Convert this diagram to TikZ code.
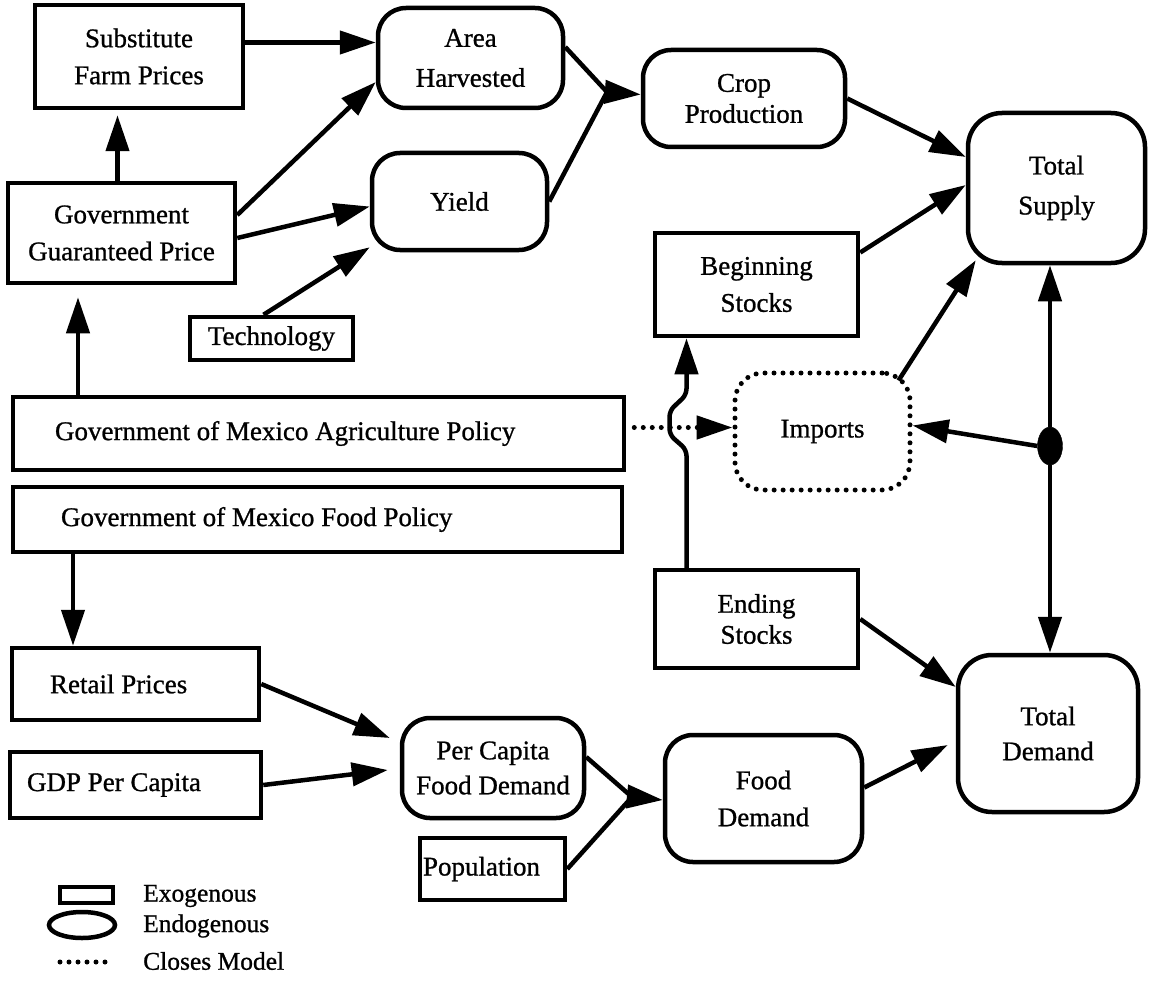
\documentclass[tikz,border=0pt]{standalone}
\usepackage{fontspec}
\setmainfont{Liberation Serif}[BoldFont={Liberation Serif}, BoldFeatures={FakeBold=0.9}]
\usetikzlibrary{arrows.meta,shapes.geometric}

\tikzset{
  exo/.style={draw, line width=4.5pt, align=center, inner sep=0pt},
  endo/.style={exo, rounded corners=28pt},
  link/.style={line width=4.5pt, line join=round, -{Triangle[length=36pt,width=23pt]}},
  bare/.style={line width=4.5pt, line join=round},
  closes/.style={line width=5pt, line cap=round, dash pattern=on 0pt off 9pt},
}

\begin{document}
\begin{tikzpicture}[x=1pt, y=-1pt, font=\fontsize{27}{37}\selectfont\bfseries]
		\useasboundingbox (0,0) rectangle (1150,987);
		
		%%%%% SUPPLY SIDE %%%%%
		
		\node[exo, minimum width=208pt, minimum height=103pt] (subst) at (139,56.5) {Substitute\\Farm Prices};
		\node[endo, minimum width=185pt, minimum height=100pt] (area) at (470.5,58) {Area\\[3pt]Harvested};
		\node[endo, minimum width=202pt, minimum height=97pt] (crop) at (744,98.5) {Crop\\[-6pt]Production};
		\node[endo, minimum width=175pt, minimum height=97pt] (yield) at (459.5,201.5) {Yield};
		\node[endo, rounded corners=34pt, minimum width=177pt, minimum height=150pt] (ts) at (1056.5,188) {Total\\[3pt]Supply};
		\node[exo, minimum width=227pt, minimum height=100pt] (ggp) at (121.5,233) {Government\\Guaranteed Price};
		\node[exo, minimum width=203pt, minimum height=103pt] (bs) at (756.5,284.5) {Beginning\\Stocks};
		\node[exo, minimum width=163pt, minimum height=43pt] (tech) at (271.5,338.5) {Technology};
		\node[endo, closes, minimum width=175pt, minimum height=117pt] (imports) at (822.5,431.5) {Imports};
		\node[draw, fill, ellipse, minimum width=25pt, minimum height=38pt, inner sep=0pt] (dot) at (1050,446) {};
		
		%%%%% POLICY %%%%%
		
		\node[exo, align=flush left, minimum height=73pt, text width=527pt, inner xsep=42pt] (agr) at (318.5,433.5) {Government of Mexico Agriculture Policy};
		\node[exo, align=flush left, minimum height=65pt, text width=513pt, inner xsep=48pt] (food) at (317.5,519.5) {Government of Mexico Food Policy};
		
		%%%%% DEMAND SIDE %%%%%
		
		\node[exo, minimum width=203pt, minimum height=98pt] (es) at (756.5,619) {Ending\\[-6pt]Stocks};
		\node[exo, align=flush left, minimum height=72pt, text width=171pt, inner xsep=38pt] (retail) at (135.5,684) {Retail Prices};
		\node[exo, align=flush left, minimum height=66pt, text width=217pt, inner xsep=17pt] (gdp) at (135.5,785) {GDP Per Capita};
		\node[endo, minimum width=182pt, minimum height=100pt] (pcfd) at (493,768) {Per Capita\\[-2pt]Food Demand};
		\node[endo, minimum width=197pt, minimum height=127pt] (fd) at (763.5,798.5) {Food\\Demand};
		\node[endo, rounded corners=34pt, minimum width=180pt, minimum height=157pt] (td) at (1048,733.5) {Total\\[-2pt]Demand};
		\node[exo, align=flush left, minimum height=62pt, text width=139pt, inner xsep=3pt] (pop) at (492.5,869) {Population};
		
		%%%%% LINKS %%%%%
		
		\draw[link] ([yshift=14pt]subst.east) -- ([yshift=15.5pt]area.west);
		\draw[link] ([xshift=-4pt]ggp.north) -- ([xshift=-21.5pt,yshift=-5pt]subst.south);
		\draw[link] ([yshift=18pt]ggp.east) -- ([yshift=-24pt]area.west);
		\draw[link] ([yshift=-5pt]ggp.east) -- ([yshift=-5pt]yield.west);
		\draw[link] ([xshift=-8pt]tech.north) -- ([yshift=5pt]yield.south west);
		
		\coordinate (cropjoin) at (607,92);
		\draw[bare] ([yshift=11pt]area.east) -- (cropjoin) -- (yield.east);
		\draw[link] (cropjoin) -- ([yshift=4pt]crop.west);
		
		\draw[link] (crop.east) -- ([yshift=31pt]ts.west);
		\draw[link] ([yshift=32pt]bs.east) -- ([yshift=3pt]ts.west);
		\draw[link] ([xshift=-14pt,yshift=-10pt]imports.north east) -- ([xshift=10pt,yshift=5pt]ts.south west);
		\draw[link] (dot.north) -- (dot.north |- ts.south);
		\draw[link] (dot.south) -- (dot.south |- td.north);
		\draw[link] (dot.west) -- ([yshift=6pt]imports.east);
		
		\draw[link, closes] ([xshift=8pt,yshift=6pt]agr.east) -- ([yshift=4pt]imports.west);
		\draw[link, rounded corners=6pt] ([xshift=-70pt]es.north) -- ++(0,-118) -- ++(-17,-15) -- ++(0,-24) -- ++(17,-16) -- ([xshift=-70pt]bs.south);
		\draw[link] ([xshift=-240.5pt]agr.north) -- ([xshift=-43.5pt,yshift=-12pt]ggp.south);
		\draw[link] ([xshift=-244.5pt]food.south) -- ([xshift=-62.5pt]retail.north);
		
		\draw[link] (es.east) -- ([yshift=46.5pt]td.west);
		\draw[link] ([yshift=11pt]fd.east) -- ([xshift=-8pt,yshift=-11.5pt]td.west);
		\draw[link] (retail.east) -- ([xshift=-10pt,yshift=30pt]pcfd.west);
		\draw[link] (gdp.east) -- ([xshift=-12pt,yshift=-2pt]pcfd.west);
		
		\coordinate (fdjoin) at (632,797);
		\draw[bare] ([yshift=11pt]pcfd.east) -- (fdjoin) -- (pop.east);
		\draw[link] (fdjoin) -- ([yshift=-1.5pt]fd.west);
		
		%%%%% KEY %%%%%
		
		\node[exo, minimum width=53pt, minimum height=16pt] (keyexo) at (86.5,895) {};
		\node[draw, line width=4.5pt, ellipse, minimum width=66pt, minimum height=26pt] (keyendo) at (82,925) {};
		\coordinate (keyline) at (60,962);
		\draw[closes] (keyline) -- ++(48,0);
		\begin{scope}[font=\fontsize{25.5}{30}\selectfont\bfseries]
			\node[anchor=west, inner sep=0pt] (keyexotxt) at (143,896) {Exogenous};
			\node[anchor=west, inner sep=0pt] (keyendotxt) at (143,926) {Endogenous};
			\node[anchor=west, inner sep=0pt] (keylinetxt) at (143,961) {Closes Model};
		\end{scope}
		
	\end{tikzpicture}
\end{document}
